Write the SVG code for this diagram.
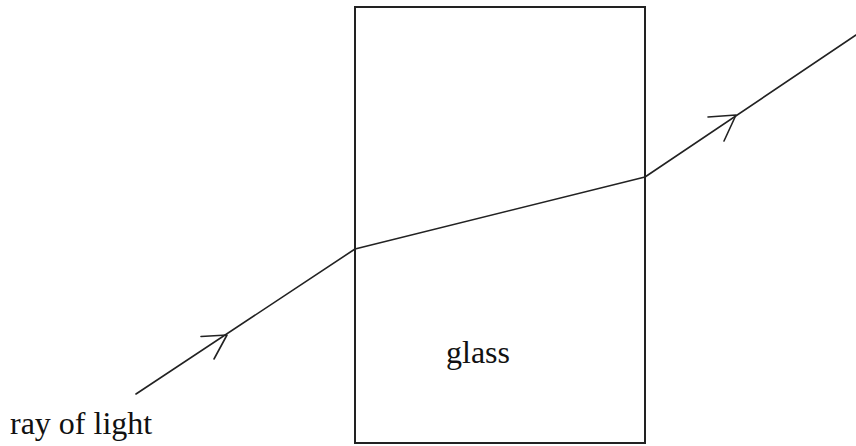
<svg xmlns="http://www.w3.org/2000/svg" width="856" height="446" viewBox="0 0 856 446">
<style>
.ray{fill:none;stroke:#222;stroke-width:1.6;stroke-linecap:round;stroke-linejoin:round}
.lbl{font-family:"Liberation Serif","Times New Roman",serif;font-size:32px;fill:#111}
</style>
<rect width="856" height="446" fill="#fff"/>
<g id="glass">
<rect x="355" y="7" width="290" height="436" fill="none" stroke="#222" stroke-width="2"/>
<text class="lbl" x="446" y="363">glass</text>
</g>
<g id="label">
<text class="lbl" x="10" y="434">ray of light</text>
</g>
<g id="connectors">
<polyline class="ray" points="136,394 355,249 645,177 856,35"/>
<polyline class="ray" points="201,336.5 227,335 214,359"/>
<polyline class="ray" points="708,117 736,115 724,141"/>
</g>
</svg>
